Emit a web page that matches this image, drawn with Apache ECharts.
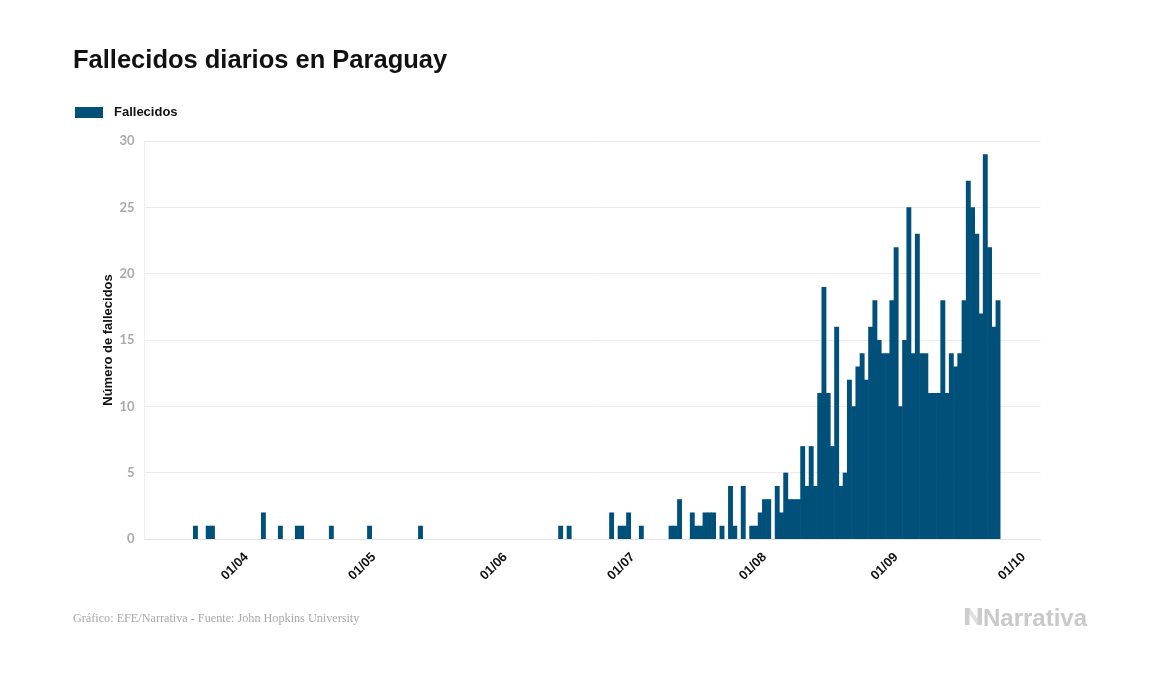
<!DOCTYPE html>
<html>
<head>
<meta charset="utf-8">
<script src="https://cdn.jsdelivr.net/npm/echarts@6/dist/echarts.min.js"></script>
<style>
  html, body { margin: 0; padding: 0; background: #ffffff; }
  #chart { width: 1157px; height: 674px; }
</style>
</head>
<body>
<div id="chart"></div>
<script>
// ---- Data (daily deaths, Paraguay) ----
const startDate = [2020, 3, 20];           // first day of the series (20 March 2020)
const deathsMar = [1,0,0,1,1,0,0,0,0,0,0,0];                                  // 20-31 Mar
const deathsApr = [0,0,0,0,2,0,0,0,1,0, 0,0,1,1,0,0,0,0,0,0, 1,0,0,0,0,0,0,0,0,1];
const deathsMay = [0,0,0,0,0,0,0,0,0,0, 0,1,0,0,0,0,0,0,0,0, 0,0,0,0,0,0,0,0,0,0,0];
const deathsJun = [0,0,0,0,0,0,0,0,0,0, 0,0,0,1,0,1,0,0,0,0, 0,0,0,0,0,2,0,1,1,2];
const deathsJul = [0,0,1,0,0,0,0,0,0,1, 1,3,0,0,2,1,1,2,2,2, 0,1,0,4,1,0,4,0,1,1,2];
const deathsAug = [3,3,0,4,2,5,3,3,3,7, 4,7,4,11,19,11,7,16,4,5, 12,10,13,14,12,16,18,15,14,14,18];
const deathsSep = [22,10,15,25,14,23,14,14,11,11, 11,18,11,14,13,14,18,27,25,23, 17,29,22,16,18]; // 1-25 Sep
const axisRange = ['2020-03-08', '2020-10-05'];
const tickDates = ['2020-04-01','2020-05-01','2020-06-01','2020-07-01','2020-08-01','2020-09-01','2020-10-01'];
const tickLabels = ['01/04','01/05','01/06','01/07','01/08','01/09','01/10'];
const yTicks = [0, 5, 10, 15, 20, 25, 30];

// ---- Build series (x = UTC timestamp in ms); zero days draw nothing ----
const DAY = 86400000;
function utc(s) { const p = s.split('-').map(Number); return Date.UTC(p[0], p[1] - 1, p[2]); }
const allDeaths = [].concat(deathsMar, deathsApr, deathsMay, deathsJun, deathsJul, deathsAug, deathsSep);
const t0 = Date.UTC(startDate[0], startDate[1] - 1, startDate[2]);
const seriesData = allDeaths.map((v, i) => [t0 + i * DAY, v]).filter(d => d[1] > 0);
const tickValues = tickDates.map(utc);

const BAR = '#01507a';
const SANS = "'Liberation Sans', Arial, sans-serif";
const chart = echarts.init(document.getElementById('chart'), null, { renderer: 'canvas' });
chart.setOption({
  animation: false,
  backgroundColor: '#ffffff',
  title: {
    text: 'Fallecidos diarios en Paraguay',
    left: 73,
    top: 48,
    padding: 0,
    textStyle: { fontFamily: SANS, fontWeight: 'bold', fontSize: 25.5, color: '#111111' }
  },
  legend: {
    left: 75,
    top: 106,
    padding: 0,
    icon: 'rect',
    itemWidth: 28,
    itemHeight: 11,
    textStyle: { fontFamily: SANS, fontWeight: 'bold', fontSize: 13, color: '#111111', padding: [0, 0, 0, 6] },
    data: ['Fallecidos']
  },
  grid: { left: 144.5, right: 116.5, top: 141, bottom: 135, containLabel: false },
  xAxis: {
    type: 'value',
    min: utc(axisRange[0]),
    max: utc(axisRange[1]),
    axisLine: { show: true, lineStyle: { color: '#e3e3e3', width: 1 } },
    axisTick: { show: false },
    splitLine: { show: false },
    axisLabel: {
      customValues: tickValues,
      rotate: 45,
      margin: 16,
      fontFamily: SANS,
      fontWeight: 'bold',
      fontSize: 13,
      color: '#111111',
      formatter: function (val) {
        const i = tickValues.indexOf(val);
        return i >= 0 ? tickLabels[i] : '';
      }
    }
  },
  yAxis: {
    type: 'value',
    min: yTicks[0],
    max: yTicks[yTicks.length - 1],
    interval: 5,
    name: 'Número de fallecidos',
    nameLocation: 'middle',
    nameGap: 30,
    nameMoveOverlap: false,
    nameTextStyle: { fontFamily: SANS, fontWeight: 'bold', fontSize: 13, color: '#111111' },
    axisLine: { show: true, lineStyle: { color: '#eeeeee', width: 1 } },
    axisTick: { show: false },
    axisLabel: { margin: 10, fontFamily: 'Lato', fontWeight: 'bold', fontSize: 13, color: '#a9a9a9' },
    splitLine: { show: true, lineStyle: { color: '#ececec', width: 1 } }
  },
  series: [{
    name: 'Fallecidos',
    type: 'bar',
    data: seriesData,
    barCategoryGap: '0%',
    barMinWidth: 4.9,
    itemStyle: { color: BAR },
    emphasis: { disabled: true }
  }],
  graphic: [
    {
      type: 'text',
      left: 73,
      top: 612.5,
      style: { text: 'Gráfico: EFE/Narrativa - Fuente: John Hopkins University', fontFamily: 'Liberation Serif', fontSize: 12.2, fill: '#a8a8a8' }
    },
    {
      type: 'group',
      left: 965,
      top: 608,
      children: [
        { type: 'polygon', shape: { points: [[0,0],[5,0],[17,17],[12,17]] }, style: { fill: '#e0e0e0' } },
        { type: 'rect', shape: { x: 0, y: 0, width: 4.5, height: 17 }, style: { fill: '#cccccc' } },
        { type: 'rect', shape: { x: 12.5, y: 0, width: 4.5, height: 17 }, style: { fill: '#cccccc' } }
      ]
    },
    {
      type: 'text',
      left: 983,
      top: 607,
      style: { text: 'Narrativa', fontFamily: SANS, fontWeight: 'bold', fontSize: 24, fill: '#c9c9c9' }
    }
  ]
});
</script>
</body>
</html>
